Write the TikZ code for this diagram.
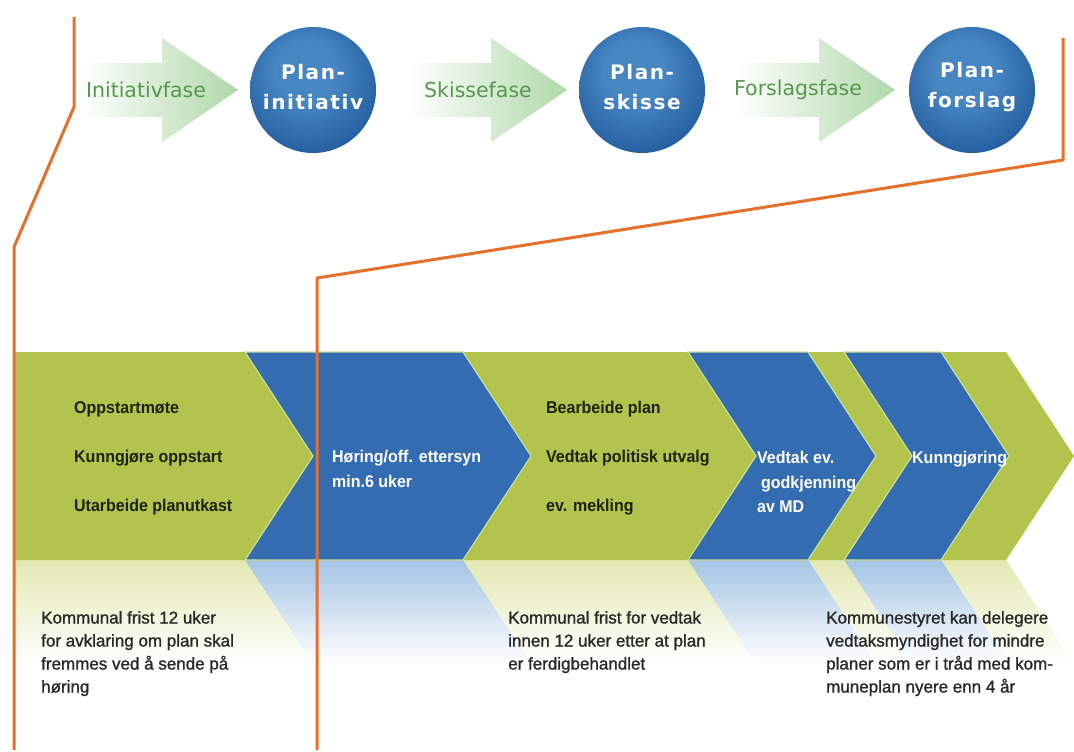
\documentclass[tikz,border=0pt]{standalone}
\usepackage{fontspec}
\setmainfont{Liberation Sans}
\newfontfamily\chevfont[FakeStretch=0.94]{Liberation Sans}
\newfontfamily\notefont[FakeBold=1.2]{Liberation Sans}
\newfontfamily\ballfont[LetterSpace=8]{DejaVu Sans}
\newfontfamily\phasefont{DejaVu Sans}
\definecolor{bandgreen}{RGB}{178,196,78}
\definecolor{bandblue}{RGB}{52,108,178}
\definecolor{chevedge}{RGB}{205,222,150}
\definecolor{orangeone}{RGB}{228,112,44}
\definecolor{arrowgreen}{RGB}{176,216,170}
\definecolor{arrowmid}{RGB}{205,232,200}
\definecolor{phasegreen}{RGB}{86,152,76}
\definecolor{refgreen}{RGB}{226,233,178}
\definecolor{refblue}{RGB}{165,196,228}
\definecolor{balllight}{RGB}{72,134,194}
\definecolor{ballmid}{RGB}{36,94,160}
\definecolor{balldark}{RGB}{14,42,92}
\definecolor{chevtext}{RGB}{28,34,10}
\definecolor{notetext}{RGB}{40,40,40}
\pgfdeclareradialshading{sphereshade}{\pgfpoint{-4bp}{10bp}}{%
  color(0bp)=(balllight); color(12bp)=(balllight); color(30bp)=(ballmid); color(46bp)=(balldark); color(50bp)=(balldark)}
\begin{document}
\begin{tikzpicture}[x=1pt,y=-1pt,
  bluechev/.style={fill=bandblue, draw=chevedge, line width=1.2pt, line join=miter},
  reflblue/.style={top color=refblue, bottom color=white, draw=none},
  reflgreen/.style={top color=refgreen, bottom color=white, draw=none},
  orangepath/.style={draw=orangeone, line width=3pt, line join=round},
  arrowshape/.style={left color=white, middle color=arrowmid, right color=arrowgreen, draw=none},
  phase/.style={font=\phasefont\fontsize{20.5}{22}\selectfont, text=phasegreen, inner sep=0pt},
  ball/.style={circle, minimum size=126pt, inner sep=0pt, shade, shading=sphereshade, draw=none},
  balltext/.style={text=white, align=center, inner sep=0pt, font=\ballfont\bfseries\fontsize{20}{30}\selectfont},
  darktext/.style={font=\chevfont\bfseries\fontsize{17}{49}\selectfont, text=chevtext, align=left, anchor=north west, inner sep=0pt},
  whitetext/.style={font=\chevfont\bfseries\fontsize{17}{24.5}\selectfont, text=white, align=left, anchor=north west, inner sep=0pt},
  note/.style={font=\notefont\fontsize{17}{23}\selectfont, text=notetext, align=left, anchor=north west, inner sep=0pt}
]
\useasboundingbox (0,0) rectangle (1074,752);
\fill[white] (0,0) rectangle (1074,752);

% phase arrows
\foreach \t in {238,567,895} {
  \shade[arrowshape] (\t-160,63) -- (\t-76,63) -- (\t-76,38) -- (\t,90) -- (\t-76,142) -- (\t-76,117) -- (\t-160,117) -- cycle;
}
\node[phase] (fInit) at (146,90) {Initiativfase};
\node[phase] (fSkisse) at (478,90) {Skissefase};
\node[phase] (fForslag) at (798,90) {Forslagsfase};

% balls
\node[ball] (bInit) at (313,90) {};
\node[ball] (bSkisse) at (642,90) {};
\node[ball] (bForslag) at (972,90) {};
\node[balltext, yshift=3pt] (tInit) at (bInit.center) {Plan-\\initiativ};
\node[balltext, yshift=3pt] (tSkisse) at (bSkisse.center) {Plan-\\skisse};
\node[balltext, yshift=3pt] (tForslag) at (bForslag.center) {Plan-\\forslag};

% reflection
\shade[reflgreen] (14,560) -- (1006,560) -- (1074,664) -- (14,664) -- cycle;
\shade[reflblue] (245,560) -- (463,560) -- (531,664) -- (313,664) -- cycle;
\shade[reflblue] (688,560) -- (808,560) -- (876,664) -- (756,664) -- cycle;
\shade[reflblue] (844,560) -- (941,560) -- (1009,664) -- (912,664) -- cycle;

% band
\fill[bandgreen] (14,352) -- (1006,352) -- (1074,456) -- (1006,560) -- (14,560) -- cycle;
\path[bluechev] (245,352) -- (463,352) -- (531,456) -- (463,560) -- (245,560) -- (313,456) -- cycle;
\path[bluechev] (688,352) -- (808,352) -- (876,456) -- (808,560) -- (688,560) -- (756,456) -- cycle;
\path[bluechev] (844,352) -- (941,352) -- (1009,456) -- (941,560) -- (844,560) -- (912,456) -- cycle;

% chevron texts
\node[darktext] (s1) at (74,401) {Oppstartmøte\\Kunngjøre oppstart\\Utarbeide planutkast};
\node[whitetext] (s2) at (332,450) {Høring/off. ettersyn\\min.6 uker};
\node[darktext] (s3) at (546,401) {Bearbeide plan\\Vedtak politisk utvalg\\ev. mekling};
\node[whitetext] (s4) at (757,451) {Vedtak ev.\\\hspace*{4pt}godkjenning\\av MD};
\node[whitetext] (s5) at (912,451) {Kunngjøring};

% notes
\node[note] (n1) at (41,611) {Kommunal frist 12 uker\\for avklaring om plan skal\\fremmes ved å sende på\\høring};
\node[note] (n2) at (508,611) {Kommunal frist for vedtak\\innen 12 uker etter at plan\\er ferdigbehandlet};
\node[note] (n3) at (826,611) {Kommunestyret kan delegere\\vedtaksmyndighet for mindre\\planer som er i tråd med kom-\\muneplan nyere enn 4 år};

% orange boundary lines
\draw[orangepath] (74,17) -- (74,107) -- (14,247) -- (14,750);
\draw[orangepath] (1063,38) -- (1063,160) -- (317,278) -- (317,750);
\end{tikzpicture}
\end{document}
